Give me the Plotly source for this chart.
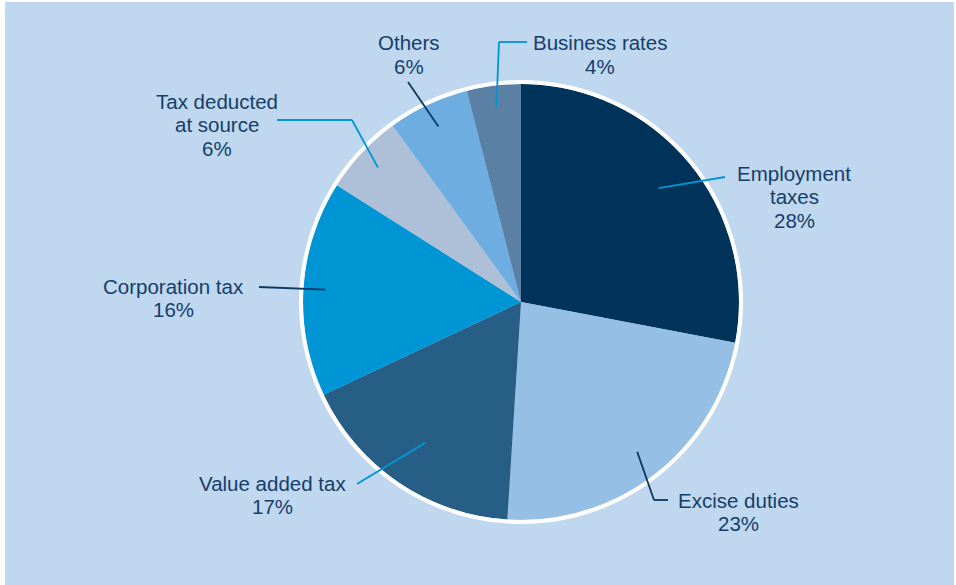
import math
import plotly.graph_objects as go

# ---- data ----
categories = ["Employment taxes", "Excise duties", "Value added tax", "Corporation tax",
              "Tax deducted at source", "Others", "Business rates"]
label_lines = [["Employment", "taxes"], ["Excise duties"], ["Value added tax"], ["Corporation tax"],
               ["Tax deducted", "at source"], ["Others"], ["Business rates"]]
shares = [28, 23, 17, 16, 6, 6, 4]

# ---- style / layout ----
W, H = 956, 585
colors = ["#00335a", "#96bfe6", "#275e85", "#0096d6", "#adc0d8", "#6dade0", "#5b80a5"]
TEXT = "#163e6a"
BLUE_LINE = "#0096d6"
NAVY_LINE = "#0b3862"
CX, CY, R = 521, 302, 218
FONT = "Liberation Sans, Arial, sans-serif"
FS = 20.5
LINE_GAP = 23.5

# label placement (pixels): text centre x, first-line centre y, leader outer points, inner radius fraction, leader colour
label_cfg = [
    dict(x=794, y=173, pts=[(725, 177)], frac=0.82, col=BLUE_LINE),
    dict(x=738, y=500, pts=[(668, 500), (654, 500)], frac=0.87, col=NAVY_LINE),
    dict(x=272, y=483, pts=[(357, 484)], frac=0.78, col=BLUE_LINE),
    dict(x=173, y=286, pts=[(259, 287)], frac=0.90, col=NAVY_LINE),
    dict(x=217, y=101, pts=[(277, 120), (352, 120)], frac=0.90, col=BLUE_LINE),
    dict(x=409, y=43, pts=[(408, 82)], frac=0.89, col=NAVY_LINE),
    dict(x=600, y=43, pts=[(527, 42), (499, 42)], frac=0.90, col=BLUE_LINE),
]

def px(x):
    return x / W

def py(y):
    return 1 - y / H

fig = go.Figure()
fig.add_trace(go.Pie(
    labels=categories, values=shares, sort=False, direction="clockwise", rotation=0,
    marker=dict(colors=colors, line=dict(width=0)),
    textinfo="none", hoverinfo="label+percent", showlegend=False,
    domain=dict(x=[px(CX - R), px(CX + R)], y=[py(CY + R), py(CY - R)]),
))

shapes = [
    dict(type="rect", xref="paper", yref="paper", x0=px(5), x1=px(954), y0=0, y1=py(2),
         fillcolor="#bfd7ef", line=dict(width=0), layer="below"),
    dict(type="circle", xref="paper", yref="paper", x0=px(CX - R - 2), x1=px(CX + R + 2),
         y0=py(CY + R + 2), y1=py(CY - R - 2), line=dict(color="white", width=4), layer="above"),
]
annotations = []
total = sum(shares)
cum = 0
for i, v in enumerate(shares):
    mid = (cum + v / 2) / total * 2 * math.pi
    cum += v
    cfg = label_cfg[i]
    ix = CX + cfg["frac"] * R * math.sin(mid)
    iy = CY - cfg["frac"] * R * math.cos(mid)
    pts = cfg["pts"] + [(ix, iy)]
    for (x0, y0), (x1, y1) in zip(pts[:-1], pts[1:]):
        shapes.append(dict(type="line", xref="paper", yref="paper", x0=px(x0), y0=py(y0),
                           x1=px(x1), y1=py(y1), line=dict(color=cfg["col"], width=1.8), layer="above"))
    lines = label_lines[i] + [f"{v}%"]
    for k, t in enumerate(lines):
        annotations.append(dict(text=t, x=px(cfg["x"]), y=py(cfg["y"] + k * LINE_GAP), xref="paper", yref="paper",
                                showarrow=False, xanchor="center", yanchor="middle",
                                font=dict(family=FONT, size=FS, color=TEXT)))

fig.update_layout(width=W, height=H, margin=dict(l=0, r=0, t=0, b=0), paper_bgcolor="white",
                  plot_bgcolor="white", shapes=shapes, annotations=annotations)
fig.write_html("out.html", config={"displayModeBar": False},
               post_script="document.body.style.margin='0';document.body.style.overflow='hidden';")
